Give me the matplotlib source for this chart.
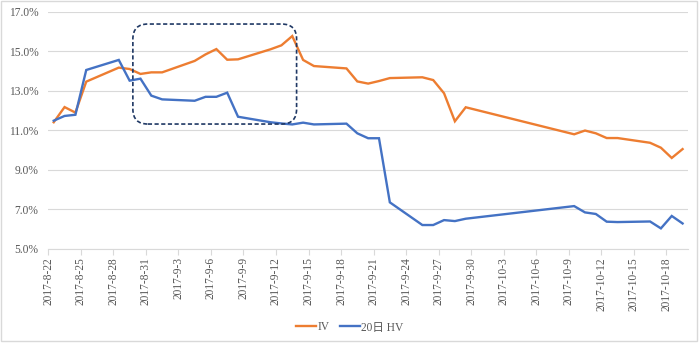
import matplotlib
matplotlib.use('Agg')
import matplotlib.pyplot as plt
import numpy as np
import datetime as dt
from matplotlib.patches import FancyBboxPatch, Rectangle
from matplotlib.transforms import IdentityTransform

# trading days (2017)
dates = ['8-22', '8-23', '8-24', '8-25', '8-28', '8-29', '8-30', '8-31', '9-1',
         '9-4', '9-5', '9-6', '9-7', '9-8', '9-11', '9-12', '9-13', '9-14', '9-15',
         '9-18', '9-19', '9-20', '9-21', '9-22', '9-25', '9-26', '9-27', '9-28', '9-29',
         '10-9', '10-10', '10-11', '10-12', '10-13', '10-16', '10-17', '10-18', '10-19']

iv = [11.41, 12.18, 11.90, 13.47, 14.18, 14.11, 13.86, 13.94, 13.94,
      14.52, 14.85, 15.12, 14.58, 14.60, 15.11, 15.31, 15.78, 14.57, 14.26,
      14.14, 13.48, 13.37, 13.50, 13.65, 13.69, 13.55, 12.88, 11.46, 12.17,
      10.80, 10.99, 10.85, 10.61, 10.61, 10.37, 10.12, 9.60, 10.05]

hv = [11.49, 11.73, 11.79, 14.06, 14.57, 13.52, 13.62, 12.76, 12.57,
      12.50, 12.70, 12.70, 12.91, 11.69, 11.41, 11.35, 11.30, 11.39, 11.30,
      11.34, 10.85, 10.60, 10.60, 7.35, 6.20, 6.20, 6.45, 6.40, 6.52,
      7.16, 6.84, 6.76, 6.37, 6.35, 6.38, 6.03, 6.66, 6.28]

series_names = ['IV', '20日 HV']
series_colors = ['#ED7D31', '#4472C4']

start = dt.date(2017, 8, 22)


def to_day(s):
    m, d = s.split('-')
    return (dt.date(2017, int(m), int(d)) - start).days


x = np.array([to_day(s) for s in dates]) + 0.5

fig = plt.figure(figsize=(7.0, 3.43), dpi=100)
ax = fig.add_axes([48.3 / 700, 1 - 248.7 / 343, (688 - 48.3) / 700, (248.7 - 12) / 343])

ax.plot(x, iv, color=series_colors[0], lw=1.7, label=series_names[0], solid_joinstyle='miter')
ax.plot(x, hv, color=series_colors[1], lw=1.7, label=series_names[1], solid_joinstyle='miter')

ax.set_xlim(0, 59)
ax.set_ylim(5, 17)
ax.set_yticks(np.arange(5, 17.1, 2))
ax.set_yticklabels([f'{v:.1f}%' for v in np.arange(5, 17.1, 2)])

tick_days = np.arange(0, 58, 3)
tick_labels = []
for d in tick_days:
    t = start + dt.timedelta(days=int(d))
    tick_labels.append(f'{t.year}-{t.month}-{t.day}')
ax.set_xticks(tick_days)
ax.set_xticklabels(tick_labels, rotation=90)

ax.grid(axis='y', color='#D9D9D9', lw=0.8)
ax.set_axisbelow(True)
for sp in ['top', 'right', 'left']:
    ax.spines[sp].set_visible(False)
ax.spines['bottom'].set_color('#D9D9D9')
ax.spines['bottom'].set_linewidth(0.8)
ax.tick_params(axis='y', length=0, pad=7.2, labelsize=8.3, labelcolor='#595959')
ax.tick_params(axis='x', length=4, width=0.8, color='#D9D9D9', pad=2,
               labelsize=8.3, labelcolor='#595959')
for lab in ax.get_xticklabels() + ax.get_yticklabels():
    lab.set_fontfamily('Liberation Serif')

leg = fig.legend(loc='center', bbox_to_anchor=(350 / 700, 1 - 327.5 / 343), ncol=2,
                 frameon=False, handlelength=1.7, handletextpad=0.15, columnspacing=0.9,
                 prop={'family': ['Liberation Serif', 'Noto Sans CJK SC'], 'size': 8.3})
for t in leg.get_texts():
    t.set_color('#595959')

# highlighted window (dashed rounded box)
box_x = [7.8, 22.9]
box_y = [11.32, 16.39]
fig.canvas.draw()
(x0, y0) = ax.transData.transform((box_x[0], box_y[0]))
(x1, y1) = ax.transData.transform((box_x[1], box_y[1]))
box = FancyBboxPatch((x0, y0), x1 - x0, y1 - y0,
                     boxstyle='round,pad=0,rounding_size=15',
                     transform=IdentityTransform(), fill=False,
                     edgecolor='#1F3864', lw=1.2, linestyle=(0, (2.5, 1.5)))
fig.patches.append(box)

# chart border
fig.patches.append(Rectangle((1 / 700, 2 / 343), 696 / 700, 340 / 343,
                             transform=fig.transFigure, fill=False,
                             edgecolor='#D9D9D9', lw=1.0))

fig.savefig('out.png', dpi=100)
